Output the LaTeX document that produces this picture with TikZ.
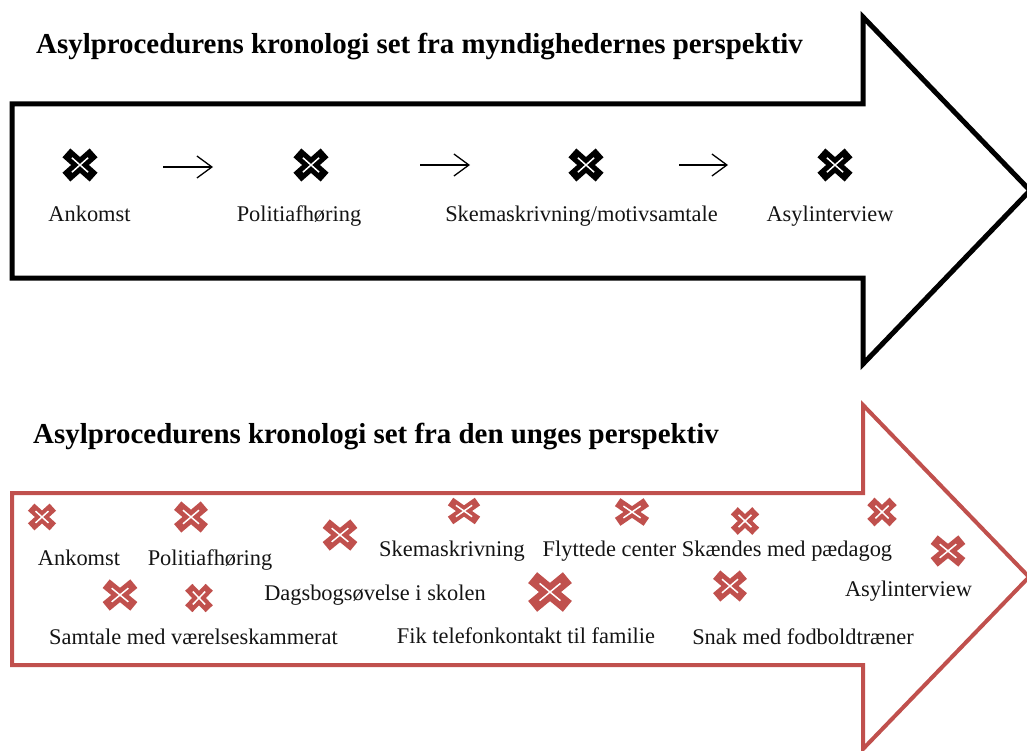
\documentclass[tikz,border=0pt]{standalone}
\usepackage{fontspec}
\setmainfont{Liberation Serif}
\usetikzlibrary{calc,arrows.meta}
\definecolor{aRed}{RGB}{192,80,77}
\definecolor{txt}{RGB}{20,20,20}
\newcommand{\crossmk}[6]{%
  \coordinate (#1) at (#2,#3);
  \pgfmathsetmacro{\cxT}{0.37*min(#4,#5)}%
  \pgfmathsetmacro{\cxA}{#4/2-0.33*\cxT}%
  \pgfmathsetmacro{\cxB}{#5/2-0.33*\cxT}%
  \draw[#6, line width=\cxT pt, line cap=butt] ($(#1)+(-\cxA,-\cxB)$) -- ($(#1)+(\cxA,\cxB)$);
  \draw[#6, line width=\cxT pt, line cap=butt] ($(#1)+(-\cxA,\cxB)$) -- ($(#1)+(\cxA,-\cxB)$);
  \draw[white, line width=1.5pt] ($(#1)+(-0.6*\cxA,-0.6*\cxB)$) -- ($(#1)+(0.6*\cxA,0.6*\cxB)$);
  \draw[white, line width=1.5pt] ($(#1)+(-0.6*\cxA,0.6*\cxB)$) -- ($(#1)+(0.6*\cxA,-0.6*\cxB)$);
}
\tikzset{
  lbl/.style={anchor=base, inner sep=0pt, text=txt, font=\fontsize{22.4}{27}\selectfont},
  ttl/.style={anchor=base west, inner sep=0pt, text=black, font=\fontsize{28.9}{33}\selectfont\bfseries},
  bigarrow/.style={line width=#1, line join=miter, miter limit=20},
  steparrow/.style={line width=1.3pt, -{Straight Barb[length=15pt,width=22pt,line width=1.3pt]}},
}
\begin{document}
\begin{tikzpicture}[x=1pt,y=-1pt]
\useasboundingbox (0,0) rectangle (1027,751);
% top arrow
\draw[bigarrow=5pt, black] (12,104) -- (863,104) -- (863,17) -- (1030,190.5) -- (863,364) -- (863,278) -- (12,278) -- cycle;
% bottom arrow
\draw[bigarrow=4pt, aRed] (12,493) -- (863,493) -- (863,405) -- (1029,577) -- (863,749) -- (863,665) -- (12,665) -- cycle;

% titles
\node[ttl] (t1) at (36,54) {Asylprocedurens kronologi set fra myndighedernes perspektiv};
\node[ttl] (t2) at (33,443) {Asylprocedurens kronologi set fra den unges perspektiv};

% top crosses
\crossmk{k1}{80}{165}{35}{32}{black}
\crossmk{k2}{311}{165}{35}{32}{black}
\crossmk{k3}{586}{165}{35}{32}{black}
\crossmk{k4}{835}{165}{35}{32}{black}
% top labels
\node[lbl] (l1) at (89.5,222) {Ankomst};
\node[lbl] (l2) at (299,222) {Politiafhøring};
\node[lbl] (l3) at (581.5,222) {Skemaskrivning/motivsamtale};
\node[lbl] (l4) at (830,222) {Asylinterview};
% top step arrows
\coordinate (s1a) at (163,167); \coordinate (s1b) at (213,167);
\coordinate (s2a) at (420,165); \coordinate (s2b) at (470,165);
\coordinate (s3a) at (679,165); \coordinate (s3b) at (728,165);
\draw[steparrow] (s1a) -- (s1b);
\draw[steparrow] (s2a) -- (s2b);
\draw[steparrow] (s3a) -- (s3b);

% red crosses
\crossmk{r1}{42}{517}{28}{26}{aRed}
\crossmk{r2}{191}{517}{34}{30}{aRed}
\crossmk{r3}{120}{595}{35}{30}{aRed}
\crossmk{r4}{199}{598}{27}{28}{aRed}
\crossmk{r5}{340}{535}{35}{30}{aRed}
\crossmk{r6}{464}{511}{33}{25}{aRed}
\crossmk{r7}{632}{512}{35}{26}{aRed}
\crossmk{r8}{550}{592}{44}{38}{aRed}
\crossmk{r9}{745}{521}{28}{27}{aRed}
\crossmk{r10}{730}{586}{34}{30}{aRed}
\crossmk{r11}{882}{512}{29}{28}{aRed}
\crossmk{r12}{948}{551}{35}{30}{aRed}
% red labels
\node[lbl] (m1) at (79,565) {Ankomst};
\node[lbl] (m2) at (210,565) {Politiafhøring};
\node[lbl] (m3) at (452,556) {Skemaskrivning};
\node[lbl] (m4) at (609.5,556) {Flyttede center};
\node[lbl] (m5) at (787,556) {Skændes med pædagog};
\node[lbl] (m6) at (375,600) {Dagsbogsøvelse i skolen};
\node[lbl] (m7) at (908.5,596) {Asylinterview};
\node[lbl] (m8) at (193.5,644) {Samtale med værelseskammerat};
\node[lbl] (m9) at (526,643) {Fik telefonkontakt til familie};
\node[lbl] (m10) at (803,644) {Snak med fodboldtræner};
\end{tikzpicture}
\end{document}
